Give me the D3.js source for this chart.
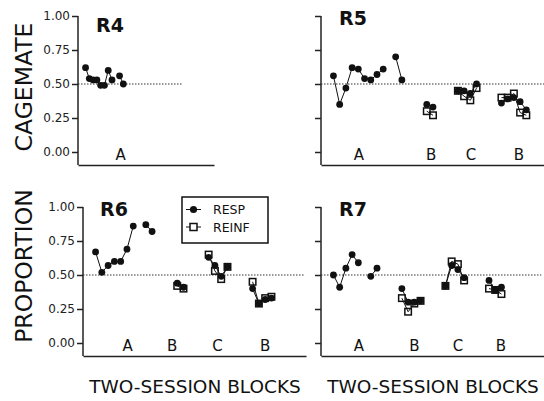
<!DOCTYPE html>
<html>
<head>
<meta charset="utf-8">
<script src="https://cdn.jsdelivr.net/npm/d3@7"></script>
<style>
  html, body { margin: 0; padding: 0; background: #fff; }
  svg { display: block; font-family: "DejaVu Sans", Verdana, sans-serif; }
</style>
</head>
<body>
<div id="chart"></div>
<script>
// every series starts at block 2, null = no session (gap in the line)
const START_BLOCK = 2;
const yTicks = [0, 0.25, 0.5, 0.75, 1];

const r4Resp = [0.62, 0.54, 0.53, 0.53, 0.49, 0.49, 0.60, 0.53, null, 0.56, 0.50];
const r4Reinf = [];
const r4Phases = ["A"];

const r5Resp = [0.56, 0.35, 0.47, 0.62, 0.61, 0.54, 0.53, 0.57, 0.61, null, 0.70, 0.53,
  null, null, null, 0.35, 0.33, null, null, null, 0.45, 0.45, 0.43, 0.50,
  null, null, null, 0.36, 0.39, 0.40, 0.37, 0.31];
const r5Reinf = [null, null, null, null, null, null, null, null, null, null, null, null,
  null, null, null, 0.30, 0.27, null, null, null, 0.45, 0.41, 0.38, 0.47,
  null, null, null, 0.40, 0.40, 0.43, 0.29, 0.27];
const r5Phases = ["A", "B", "C", "B"];

const r6Resp = [0.67, 0.52, 0.57, 0.60, 0.60, 0.69, 0.86, null, 0.87, 0.82,
  null, null, null, 0.44, 0.41, null, null, null, 0.63, 0.57, 0.49, 0.56,
  null, null, null, 0.40, 0.29, 0.32, 0.33];
const r6Reinf = [null, null, null, null, null, null, null, null, null, null,
  null, null, null, 0.42, 0.40, null, null, null, 0.65, 0.53, 0.47, 0.56,
  null, null, null, 0.45, 0.29, 0.33, 0.34];
const r6Phases = ["A", "B", "C", "B"];

const r7Resp = [0.50, 0.41, 0.55, 0.65, 0.59, null, 0.49, 0.55,
  null, null, null, 0.40, 0.30, 0.30, 0.31, null, null, null, 0.42, 0.57, 0.54, 0.48,
  null, null, null, 0.46, 0.39, 0.41];
const r7Reinf = [null, null, null, null, null, null, null, null,
  null, null, null, 0.33, 0.23, 0.29, 0.31, null, null, null, 0.42, 0.60, 0.58, 0.46,
  null, null, null, 0.40, 0.39, 0.36];
const r7Phases = ["A", "B", "C", "B"];

const legendLabels = ["RESP", "REINF"];

const panels = [
  { id: "R4", resp: r4Resp, reinf: r4Reinf, phases: r4Phases, phaseAt: [11.3],
    left: 78, width: 136, xMax: 36, top: 16, zero: 152, refEnd: 27.4,
    titleX: 96, titleY: 32, tickLabels: true },
  { id: "R5", resp: r5Resp, reinf: r5Reinf, phases: r5Phases, phaseAt: [6.1, 17.7, 24.1, 31.8],
    left: 321, width: 224, xMax: 36, top: 16, zero: 152, refEnd: 36,
    titleX: 339, titleY: 25, tickLabels: false },
  { id: "R6", resp: r6Resp, reinf: r6Reinf, phases: r6Phases, phaseAt: [7.1, 14.2, 21.4, 29.0],
    left: 83, width: 223, xMax: 35.5, top: 207, zero: 343, refEnd: 35.3,
    titleX: 100, titleY: 216, tickLabels: true },
  { id: "R7", resp: r7Resp, reinf: r7Reinf, phases: r7Phases, phaseAt: [6.1, 15.0, 22.0, 28.9],
    left: 321, width: 224, xMax: 36, top: 207, zero: 343, refEnd: 35.4,
    titleX: 339, titleY: 216, tickLabels: false }
];

const W = 544, H = 401;
const INK = "#111";

const svg = d3.select("#chart")
  .append("svg")
  .attr("width", W)
  .attr("height", H);

panels.forEach(drawPanel);
drawLegend(182, 197);

// axis titles
svg.append("text")
  .attr("transform", "translate(31.5,87) rotate(-90)")
  .attr("text-anchor", "middle")
  .attr("font-size", "23.5px")
  .attr("fill", INK)
  .text("CAGEMATE");

svg.append("text")
  .attr("transform", "translate(31.5,266) rotate(-90)")
  .attr("text-anchor", "middle")
  .attr("font-size", "23.5px")
  .attr("fill", INK)
  .text("PROPORTION");

[195, 433].forEach(cx => {
  svg.append("text")
    .attr("x", cx)
    .attr("y", 393)
    .attr("text-anchor", "middle")
    .attr("font-size", "18.5px")
    .attr("fill", INK)
    .text("TWO-SESSION BLOCKS");
});

function toPoints(values) {
  return values.map((v, i) => ({ block: START_BLOCK + i, v: v }));
}

function drawPanel(p) {
  const x = d3.scaleLinear().domain([0, p.xMax]).range([p.left, p.left + p.width]);
  const y = d3.scaleLinear().domain([0, 1]).range([p.zero, p.top]);
  const baseline = p.zero + 13;

  const g = svg.append("g");

  // y axis: ticks from d3, own line so it reaches the baseline
  const yAxis = g.append("g")
    .attr("transform", `translate(${p.left},0)`)
    .call(d3.axisLeft(y)
      .tickValues(yTicks)
      .tickSize(6)
      .tickPadding(2)
      .tickFormat(p.tickLabels ? d3.format(".2f") : ""));
  yAxis.select(".domain").remove();
  yAxis.selectAll(".tick line").attr("stroke", "#222").attr("stroke-width", 1.5);
  yAxis.selectAll(".tick text")
    .attr("font-family", "DejaVu Sans, sans-serif")
    .attr("font-size", "12px")
    .attr("fill", "#222");

  g.append("line")
    .attr("x1", p.left).attr("x2", p.left)
    .attr("y1", y(1)).attr("y2", baseline)
    .attr("stroke", "#222")
    .attr("stroke-width", 1.5);

  // x axis without ticks
  const xAxis = g.append("g")
    .attr("transform", `translate(0,${baseline})`)
    .call(d3.axisBottom(x).tickValues([]).tickSizeOuter(0));
  xAxis.select(".domain").attr("stroke", "#222").attr("stroke-width", 1.5);

  // chance line
  g.append("line")
    .attr("x1", x(0)).attr("x2", x(p.refEnd))
    .attr("y1", y(0.5)).attr("y2", y(0.5))
    .attr("stroke", "#333")
    .attr("stroke-width", 1)
    .attr("stroke-dasharray", "1.5,1.5");

  const line = d3.line()
    .defined(d => d.v != null)
    .x(d => x(d.block))
    .y(d => y(d.v));

  const resp = toPoints(p.resp);
  const reinf = toPoints(p.reinf);

  [resp, reinf].forEach(pts => {
    g.append("path")
      .datum(pts)
      .attr("d", line)
      .attr("fill", "none")
      .attr("stroke", INK)
      .attr("stroke-width", 1);
  });

  g.append("g")
    .selectAll("circle")
    .data(resp.filter(d => d.v != null))
    .enter()
    .append("circle")
    .attr("cx", d => x(d.block))
    .attr("cy", d => y(d.v))
    .attr("r", 3.4)
    .attr("fill", INK);

  const s = 6.5;
  g.append("g")
    .selectAll("rect")
    .data(reinf.filter(d => d.v != null))
    .enter()
    .append("rect")
    .attr("x", d => x(d.block) - s / 2)
    .attr("y", d => y(d.v) - s / 2)
    .attr("width", s)
    .attr("height", s)
    .attr("fill", "none")
    .attr("stroke", INK)
    .attr("stroke-width", 1.5);

  // phase letters
  g.selectAll(".phase")
    .data(p.phases)
    .enter()
    .append("text")
    .attr("class", "phase")
    .attr("x", (d, i) => x(p.phaseAt[i]))
    .attr("y", p.zero + 7.5)
    .attr("text-anchor", "middle")
    .attr("font-size", "15px")
    .attr("fill", INK)
    .text(d => d);

  g.append("text")
    .attr("x", p.titleX)
    .attr("y", p.titleY)
    .attr("font-size", "19px")
    .attr("font-weight", "bold")
    .attr("fill", INK)
    .text(p.id);
}

function drawLegend(lx, ly) {
  const g = svg.append("g").attr("transform", `translate(${lx},${ly})`);

  g.append("rect")
    .attr("width", 86)
    .attr("height", 46)
    .attr("fill", "#fff")
    .attr("stroke", INK)
    .attr("stroke-width", 1.5);

  legendLabels.forEach((label, i) => {
    const cy = 12.5 + i * 17.5;
    g.append("line")
      .attr("x1", 4).attr("x2", 19)
      .attr("y1", cy).attr("y2", cy)
      .attr("stroke", INK)
      .attr("stroke-width", 1);
    if (i === 0) {
      g.append("circle")
        .attr("cx", 11.5).attr("cy", cy)
        .attr("r", 3.6)
        .attr("fill", INK);
    } else {
      g.append("rect")
        .attr("x", 11.5 - 3.5).attr("y", cy - 3.5)
        .attr("width", 7).attr("height", 7)
        .attr("fill", "#fff")
        .attr("stroke", INK)
        .attr("stroke-width", 1.5);
    }
    g.append("text")
      .attr("x", 31)
      .attr("y", cy + 4.5)
      .attr("font-size", "12.5px")
      .attr("fill", INK)
      .text(label);
  });
}
</script>
</body>
</html>
